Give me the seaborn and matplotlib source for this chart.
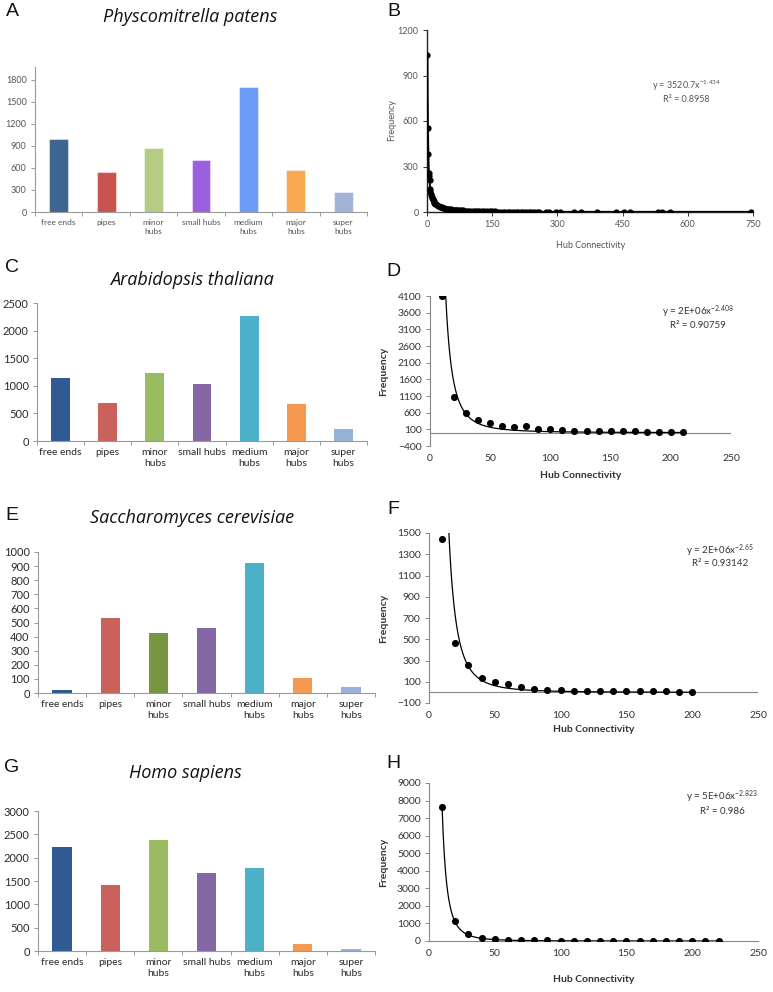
import numpy as np
import pandas as pd
import seaborn as sns
import matplotlib.pyplot as plt

# ---- data ----
categories = ["free ends", "pipes", "minor hubs", "small hubs", "medium hubs", "major hubs", "super hubs"]
cat_labels = ["free ends", "pipes", "minor\nhubs", "small hubs", "medium\nhubs", "major\nhubs", "super\nhubs"]

physco_counts = [1000, 545, 873, 709, 1700, 568, 268]
arabi_counts = [1134, 687, 1236, 1027, 2263, 675, 221]
yeast_counts = [21, 534, 426, 464, 922, 106, 40]
human_counts = [2220, 1420, 2385, 1680, 1775, 150, 50]

physco_colors = ["#3d6590", "#c9534f", "#b5cc85", "#9b5fe0", "#6b9cf7", "#f9a94f", "#a3b3d8"]
arabi_colors = ["#2f5a94", "#c9625d", "#9bbb62", "#8468a6", "#4bb0c8", "#f4994f", "#95b3d7"]
yeast_colors = ["#2f5a8c", "#c9625d", "#77963f", "#8468a6", "#4bb0c8", "#f4994f", "#95b3d7"]
human_colors = ["#2f5a94", "#c9625d", "#9bbb62", "#8468a6", "#4bb0c8", "#f4994f", "#95b3d7"]

# panel B: hub connectivity vs frequency (P. patens)
physco_conn = [1, 2, 3, 4, 5, 6, 7, 8, 9, 10, 11, 12, 13, 14, 15, 16, 17, 18, 19, 20,
               22, 24, 26, 28, 30, 32, 34, 36, 38, 40, 43, 46, 49, 52, 55, 58, 61, 64, 67, 70,
               74, 78, 82, 86, 90, 95, 100, 105, 110, 115, 120, 126, 132, 138, 144, 150, 156,
               162, 168, 174, 180, 186, 192, 198, 204, 210, 216, 222, 228, 234, 240, 246, 252,
               258, 273, 280, 296, 306, 339, 354, 391, 435, 453, 467, 531, 541, 558, 745]
physco_freq = [1035, 556, 382, 260, 240, 210, 150, 140, 120, 110, 100, 92, 85, 78, 72, 66, 62, 58, 55, 52,
               47, 44, 41, 38, 35, 33, 31, 29, 27, 25, 23, 21, 20, 19, 18, 16, 15, 14, 13, 12,
               11, 10, 10, 9, 8, 8, 7, 7, 6, 6, 5, 5, 5, 4, 4, 4, 4,
               3, 3, 3, 3, 3, 3, 2, 2, 2, 2, 2, 2, 2, 2, 1, 1,
               1, 1, 1, 1, 1, 1, 1, 1, 1, 1, 1, 1, 1, 1, 1]

arabi_conn = [10, 20, 30, 40, 50, 60, 70, 80, 90, 100, 110, 120, 130, 140, 150, 160, 170, 180, 190, 200, 210]
arabi_freq = [4100, 1080, 580, 390, 298, 205, 175, 185, 110, 108, 90, 62, 53, 53, 43, 43, 35, 34, 34, 25, 25]

yeast_conn = [10, 20, 30, 40, 50, 60, 70, 80, 90, 100, 110, 120, 130, 140, 150, 160, 170, 180, 190, 200]
yeast_freq = [1447, 469, 253, 131, 94, 78, 47, 34, 22, 22, 16, 16, 12, 16, 9, 9, 9, 9, 8, 8]

human_conn = [10, 20, 30, 40, 50, 60, 70, 80, 90, 100, 110, 120, 130, 140, 150, 160, 170, 180, 190, 200, 210, 220]
human_freq = [7650, 1130, 420, 190, 95, 57, 40, 35, 30, 28, 26, 25, 24, 23, 22, 22, 21, 21, 20, 20, 20, 20]

# power-law trendlines (a * x^b) as printed on the panels
physco_fit = (3520.7, -1.434)
arabi_fit = (2e6, -2.408)
yeast_fit = (2e6, -2.65)
human_fit = (5e6, -2.823)

# ---- style ----
sns.set_style("ticks")
plt.rcParams["font.family"] = ["Lato", "DejaVu Sans"]
plt.rcParams["mathtext.fontset"] = "custom"
plt.rcParams["mathtext.rm"] = "Lato"
plt.rcParams["mathtext.it"] = "Lato:italic"

W, H = 773, 992
fig = plt.figure(figsize=(W / 100, H / 100), dpi=100)


def box(left, top, right, bottom):
    return fig.add_axes([left / W, 1 - bottom / H, (right - left) / W, (bottom - top) / H])


def ftext(x, y, s, **kw):
    fig.text(x / W, 1 - y / H, s, **kw)


def bar_panel(ax, counts, colors, ymax, yticks, fs, tcol, edge=None):
    df = pd.DataFrame({"cat": categories, "n": counts})
    sns.barplot(data=df, x="cat", y="n", hue="cat", palette=colors, legend=False, saturation=1,
                width=0.4, ax=ax, edgecolor=edge if edge else "none", linewidth=0.8 if edge else 0)
    ax.set_xlim(-0.5, 6.5)
    ax.set_ylim(0, ymax)
    ax.set_yticks(yticks)
    ax.set_xticks(range(7))
    ax.set_xticklabels(cat_labels, linespacing=1.35)
    ax.set_xticks(np.arange(-0.5, 7, 1), minor=True)
    ax.tick_params(axis="x", which="major", length=0, pad=5, labelsize=fs, labelcolor=tcol)
    ax.tick_params(axis="x", which="minor", length=3, color="#999999", width=0.7)
    ax.tick_params(axis="y", length=3, color="#999999", width=0.7, labelsize=fs + 0.5, labelcolor=tcol, pad=3)
    ax.set_xlabel("")
    ax.set_ylabel("")
    for s in ["top", "right"]:
        ax.spines[s].set_visible(False)
    for s in ["left", "bottom"]:
        ax.spines[s].set_color("#9a9a9a")
        ax.spines[s].set_linewidth(0.8)


def fit_panel(ax, xs, ys, fit, ylim, yticks, zero_line):
    sns.scatterplot(x=xs, y=ys, color="black", s=26, edgecolor="black", linewidth=0, ax=ax, zorder=3)
    xf = np.linspace(xs[0], xs[-1], 500)
    sns.lineplot(x=xf, y=fit[0] * xf ** fit[1], color="black", lw=0.9, ax=ax, zorder=2)
    ax.set_xlim(0, 250)
    ax.set_ylim(*ylim)
    ax.set_yticks(yticks)
    ax.set_xticks(range(0, 251, 50))
    ax.tick_params(axis="x", length=0, labelsize=7.5, labelcolor="#333333", pad=6)
    ax.tick_params(axis="y", length=3, color="#888888", width=0.7, labelsize=7.5, labelcolor="#333333", pad=3)
    for s in ["top", "right"]:
        ax.spines[s].set_visible(False)
    ax.spines["left"].set_color("#888888")
    ax.spines["left"].set_linewidth(0.8)
    if zero_line:
        ax.spines["bottom"].set_visible(False)
        ax.axhline(0, color="#888888", lw=0.8, zorder=1)
    else:
        ax.spines["bottom"].set_color("#888888")
        ax.spines["bottom"].set_linewidth(0.8)


# ---- A ----
axA = box(35, 67, 367, 212)
bar_panel(axA, physco_counts, physco_colors, 1977, range(0, 1801, 300), 6, "#555555",
          edge=(1, 1, 1, 0.45))

# ---- B ----
axB = box(427, 30, 753, 212)
xf = np.linspace(3, 750, 600)
sns.lineplot(x=xf, y=physco_fit[0] * xf ** physco_fit[1], color="#777777", lw=0.6,
             linestyle=(0, (2, 2)), ax=axB, zorder=1)
sns.lineplot(x=physco_conn, y=physco_freq, color="black", lw=1.4, marker="o", markersize=4.5,
             markeredgewidth=0, ax=axB, zorder=3, estimator=None, sort=False)
axB.set_xlim(0, 750)
axB.set_ylim(0, 1200)
axB.set_xticks(range(0, 751, 150))
axB.set_yticks(range(0, 1201, 300))
axB.tick_params(length=3, color="#333333", width=0.7, labelsize=6.5, labelcolor="#555555", pad=3)
for s in ["top", "right"]:
    axB.spines[s].set_visible(False)
for s in ["left", "bottom"]:
    axB.spines[s].set_color("#222222")
    axB.spines[s].set_linewidth(1.0)
axB.set_xlabel("")
axB.set_ylabel("")

# ---- C ----
axC = box(37, 303, 367, 441)
bar_panel(axC, arabi_counts, arabi_colors, 2500, range(0, 2501, 500), 7.5, "#2a2a2a")

# ---- D ----
axD = box(430, 296, 731, 446)
fit_panel(axD, arabi_conn, arabi_freq, arabi_fit, (-400, 4100), range(-400, 4101, 500), True)

# ---- E ----
axE = box(38, 552, 375, 693)
bar_panel(axE, yeast_counts, yeast_colors, 1000, range(0, 1001, 100), 7.5, "#2a2a2a")

# ---- F ----
axF = box(429, 533, 758, 703)
fit_panel(axF, yeast_conn, yeast_freq, yeast_fit, (-100, 1500), range(-100, 1501, 200), True)

# ---- G ----
axG = box(38, 811, 375, 951)
bar_panel(axG, human_counts, human_colors, 3000, range(0, 3001, 500), 7.5, "#2a2a2a")

# ---- H ----
axH = box(429, 783, 758, 941)
fit_panel(axH, human_conn, human_freq, human_fit, (0, 9000), range(0, 9001, 1000), False)

# ---- titles, panel letters, labels ----
title_kw = dict(family="Open Sans", style="italic", fontsize=13, ha="center", va="center", color="#111111")
ftext(190, 17, "Physcomitrella patens", **title_kw)
ftext(192, 280, "Arabidopsis thaliana", **title_kw)
ftext(192, 518, "Saccharomyces cerevisiae", **title_kw)
ftext(185, 773, "Homo sapiens", **title_kw)

letter_kw = dict(family="Liberation Sans", fontsize=14, ha="center", va="center", color="#111111")
for lx, ly, lt in [(12, 11, "A"), (394, 11, "B"), (12, 267, "C"), (393, 272, "D"),
                   (12, 515, "E"), (393, 510, "F"), (12, 767, "G"), (393, 764, "H")]:
    ftext(lx, ly, lt, **letter_kw)

# panel B axis labels / equation
ftext(591, 245, "Hub Connectivity", fontsize=6.5, color="#555555", ha="center", va="center")
ftext(392, 120, "Frequency", fontsize=6.5, color="#555555", ha="center", va="center", rotation=90)
ftext(686, 86, r"y = 3520.7x$^{\mathrm{-1.434}}$", fontsize=6.5, color="#555555", ha="center", va="center")
ftext(686, 100, "R² = 0.8958", fontsize=6.5, color="#555555", ha="center", va="center")

lab_kw = dict(fontsize=7.5, weight="bold", color="#333333", ha="center", va="center")
ftext(581, 476, "Hub Connectivity", **lab_kw)
ftext(594, 729, "Hub Connectivity", **lab_kw)
ftext(594, 980, "Hub Connectivity", **lab_kw)
for yc in [371, 618, 862]:
    ftext(384, yc, "Frequency", rotation=90, **lab_kw)

eq_kw = dict(fontsize=7, color="#333333", ha="center", va="center")
ftext(698, 312, r"y = 2E+06x$^{\mathrm{-2.408}}$", **eq_kw)
ftext(698, 325, "R² = 0.90759", **eq_kw)
ftext(720, 551, r"y = 2E+06x$^{\mathrm{-2.65}}$", **eq_kw)
ftext(720, 564, "R² = 0.93142", **eq_kw)
ftext(722, 797, r"y = 5E+06x$^{\mathrm{-2.823}}$", **eq_kw)
ftext(722, 811, "R² = 0.986", **eq_kw)

fig.savefig("out.png", dpi=100, facecolor="white")
